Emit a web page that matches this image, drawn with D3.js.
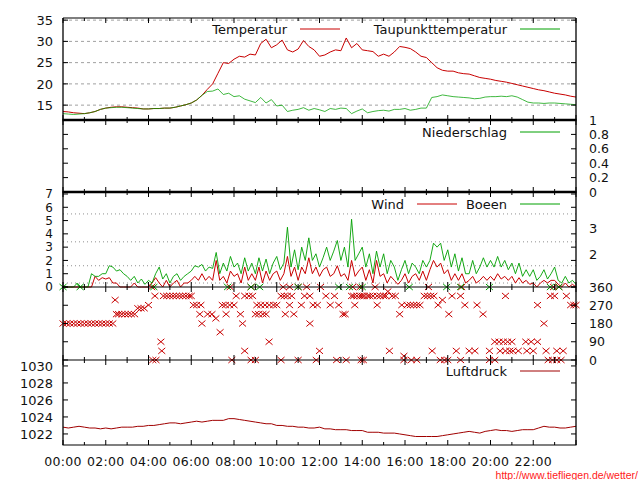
<!DOCTYPE html>
<html><head><meta charset="utf-8">
<script src="https://cdn.jsdelivr.net/npm/d3@7"></script>
<style>
body{margin:0;background:#fff}
svg{display:block}
text{font-family:"DejaVu Sans",sans-serif;font-size:13px;fill:#111}
</style>
</head><body>
<svg id="c" width="640" height="480"></svg>
<script>
// ---------------- data ----------------
const timeLabels = ["00:00","02:00","04:00","06:00","08:00","10:00","12:00","14:00","16:00","18:00","20:00","22:00"];
const step15 = 0.25;   // hours between temperature / pressure samples
const step10 = 1/6;    // hours between wind samples

const temperatur = [13.5,13.4,13.2,13.1, 13.0,13.2,13.5,14.0, 14.3,14.5,14.6,14.6, 14.5,14.4,14.3,14.1,
 14.1,14.2,14.2,14.3, 14.3,14.5,14.8,15.1, 15.5,16.2,17.3,18.7, 20.0,22.5,25.0,24.8,
 25.8,26.5,26.3,27.0, 26.8,29.5,30.5,28.5, 29.2,30.3,28.0,27.5, 28.2,30.2,28.8,28.0,
 26.5,26.8,27.5,28.0, 27.8,30.8,28.5,29.5, 28.0,27.8,27.6,26.5, 27.0,26.5,27.5,28.8,
 28.6,28.3,27.5,26.5, 26.2,25.0,23.8,23.2, 23.0,23.0,22.6,22.4, 22.3,21.9,21.5,21.3,
 21.1,20.8,20.6,20.4, 20.1,19.8,19.5,19.2, 18.9,18.6,18.4,18.1, 17.8,17.6,17.4,17.1, 16.9];

const taupunkt = [13.0,12.9,12.8,12.9, 13.0,13.2,13.5,14.0, 14.3,14.4,14.5,14.5, 14.4,14.3,14.2,14.1,
 14.1,14.2,14.2,14.3, 14.3,14.5,14.8,15.1, 15.5,16.2,17.3,18.2, 18.3,18.8,17.5,17.8,
 17.0,17.2,16.4,16.0, 15.6,16.8,15.5,16.3, 14.8,15.0,13.5,13.8, 14.0,14.4,13.8,14.2,
 13.9,13.5,14.2,14.0, 14.3,14.2,13.0,13.6, 14.1,13.2,13.5,13.7, 13.8,13.6,14.0,14.0,
 14.2,13.8,14.0,14.3, 14.3,16.8,17.0,17.4, 17.2,17.0,16.9,16.8, 16.7,16.5,16.6,16.9,
 17.0,17.0,17.1,17.0, 17.2,16.9,16.3,15.7, 15.5,15.5,15.4,15.5, 15.5,15.4,15.3,15.2, 15.1];

const niederschlag = [0,0,0,0,0,0,0,0,0,0,0,0,0,0,0,0,0,0,0,0,0,0,0,0,0];  // hourly, mm

const wind = [0,0,0,0,0,0, 0,0,0,0.8,0.5,0.7, 0.6,0.7,0.3,0.3,0,0, 0,0,0.3,0,0,0,
 0,0.3,0.7,0.3,0,0.5, 0,0.3,0.5,0,0.3,0.3, 0.5,0.8,0.5,1.0,0.5,0.8, 0.5,2.0,0.5,0.8,0.3,1.2,
 0.8,1.0,0.3,1.5,0.5,1.0, 0.5,1.5,0.3,1.2,0.5,1.0, 1.2,0.5,1.0,2.3,0.8,1.5, 0.5,1.5,1.0,2.2,1.0,1.5,
 0.8,1.3,1.5,0.8,1.0,1.6, 0.8,1.0,0.5,2.0,0.8,1.2, 1.5,0.5,1.3,0.3,2.0,0.8, 1.0,0.3,0.8,0.5,0.2,0.5,
 1.0,0.3,0.8,1.0,0.5,1.2, 0.5,1.3,2.0,1.5,1.8,1.0, 1.3,0.5,1.0,0.5,1.0,0.3, 0.5,0.8,0.3,0.5,0.8,0.5,
 0.8,0.5,1.0,0.6,0.8,0.5, 0.8,0.3,0.7,0.3,0.5,0.2, 0.3,0,0.3,0.5,0.3,0.5, 0.5,0.2,0,0.3,0,0.2, 0];

const boeen = [0,0,0,0,0.3,0, 0,0,1.0,0.8,0.8,1.0, 1.0,1.6,1.5,1.2,1.3,1.0, 0.8,0.5,0.8,0.3,0.6,0.2,
 0.5,0.3,1.0,1.5,0.6,1.0, 0.3,0.8,1.0,0.5,0.8,1.0, 1.2,1.6,1.5,1.7,1.2,1.5, 1.4,2.6,1.0,1.8,1.2,2.3,
 1.5,1.8,1.0,2.2,1.2,1.8, 1.0,2.2,1.2,2.1,1.0,1.8, 2.3,1.3,1.8,4.5,1.5,2.8, 1.3,3.0,2.0,3.7,2.0,2.5,
 1.5,2.2,3.0,2.0,2.7,3.5, 2.0,3.0,1.5,5.1,2.0,2.5, 3.0,1.5,2.5,1.0,2.7,1.5, 2.5,1.0,2.0,1.5,0.5,1.3,
 2.0,1.0,1.8,1.5,1.0,2.0, 1.5,2.0,3.3,3.0,3.3,2.0, 2.8,1.5,2.5,1.2,2.2,1.0, 1.0,2.0,1.0,1.5,2.2,1.5,
 2.0,1.5,2.3,1.5,2.0,1.3, 1.8,1.0,1.8,0.8,1.3,0.8, 1.3,0.5,0.8,1.3,0.6,1.0, 1.5,0.5,0.3,0.8,0.3,0.5, 0.2];

// wind direction observations [hour, degrees]
const windrichtung = [
 [0,180],[0.17,180],[0.33,180],[0.5,180],[0.67,180],[0.83,180],[1.0,180],[1.17,180],[1.33,180],[1.5,180],
 [1.67,180],[1.83,180],[2.0,180],[2.17,180],[2.33,180],[2.44,296],
 [2.5,226],[2.6,226],[2.75,226],[2.9,226],[3.05,226],[3.2,226],[3.35,226],[3.5,255],[3.65,255],[3.8,255],
 [4.0,271],[4.15,360],[4.2,0],[4.3,316],[4.35,0],[4.58,90],[4.62,45],
 [4.7,316],[4.85,316],[5.0,316],[5.15,316],[5.3,316],[5.45,316],[5.6,316],[5.75,316],[5.9,316],[6.0,316],
 [6.1,271],[6.25,271],[6.4,226],[6.45,271],[6.5,180],[6.77,226],[6.97,226],[7.15,205],[7.35,137],
 [7.45,271],[7.6,271],[7.63,226],[7.8,271],[7.82,360],[7.9,0],[8.0,271],[8.1,316],[8.3,226],[8.4,180],
 [8.5,45],[8.5,316],[8.7,316],[8.8,0],[8.8,360],[8.87,316],[9.0,0],[9.07,271],[9.0,226],[9.15,226],
 [9.25,271],[9.35,226],[9.45,271],[9.5,226],[9.64,90],[9.65,271],[9.85,271],[10.0,271],[10.2,316],[10.2,0],
 [10.3,360],[10.35,316],[10.4,226],[10.5,316],[10.6,271],[10.6,360],[10.7,316],[10.8,226],[11.0,0],[11.0,360],
 [11.15,271],[11.3,316],[11.4,360],[11.55,316],[11.55,180],[11.7,271],[11.85,0],[11.9,271],[12.0,45],
 [12.05,360],[12.3,316],[12.5,271],[12.7,316],[12.8,0],[12.9,271],[13.1,226],[13.2,226],[13.25,0],
 [13.5,316],[13.55,360],[13.6,316],[13.65,271],[13.75,316],[13.9,316],[13.9,360],[13.95,0],[14.0,316],
 [14.05,0],[14.1,316],[14.25,316],[14.35,316],[14.5,316],[14.6,360],[14.7,316],[14.7,271],[14.85,316],
 [15.0,316],[15.1,316],[15.2,338],[15.27,45],[15.4,316],[15.55,316],[15.75,226],[15.85,271],[15.95,20],
 [15.95,0],[16.1,271],[16.25,271],[16.3,0],[16.4,271],[16.55,271],[16.55,0],[16.7,271],
 [16.9,316],[17.05,316],[17.1,360],[17.2,316],[17.27,45],[17.35,316],[17.55,271],[17.65,0],[17.75,296],
 [17.85,0],[18.0,0],[18.05,226],[18.2,316],[18.4,45],[18.6,316],[18.6,0],[18.65,360],[18.8,271],[19.0,45],
 [19.27,45],[19.37,271],[19.65,226],[19.95,45],[19.95,0],[20.2,0],[20.2,90],[20.4,90],[20.45,45],
 [20.6,90],[20.7,45],[20.7,316],[20.8,90],[20.9,45],[21.0,90],[21.05,45],[21.3,45],[21.65,90],[21.7,45],
 [21.9,90],[22.0,45],[22.2,90],[22.2,271],[22.5,180],[22.6,45],[22.7,0],[22.8,316],[22.9,0],[22.95,360],
 [23.0,316],[23.1,0],[23.1,45],[23.2,360],[23.3,0],[23.4,45],[23.55,316],[23.75,271],[23.9,271],[24.0,271]
];
// gust direction marks (all at north)
const boeenrichtung = [[0,360],[0.8,360],[4.25,360],[7.7,360],[8.8,360],[9.2,360],[11.0,360],[12.9,360],
 [13.4,360],[14.0,360],[16.2,360],[17.95,360],[18.6,360],[19.95,360],[22.8,360],[23.2,360]];

const luftdruck = [1022.8,1022.7,1022.8,1022.9, 1022.8,1022.7,1022.7,1022.6, 1022.7,1022.6,1022.7,1022.8,
 1022.8,1022.8,1022.9,1022.9, 1023.0,1023.0,1023.1,1023.2, 1023.3,1023.3,1023.2,1023.3,
 1023.4,1023.5,1023.4,1023.5, 1023.6,1023.6,1023.6,1023.8, 1023.8,1023.7,1023.6,1023.5,
 1023.4,1023.3,1023.2,1023.2, 1023.0,1023.0,1022.9,1022.9, 1022.8,1022.8,1022.7,1022.7,
 1022.8,1022.6,1022.6,1022.5, 1022.5,1022.5,1022.4,1022.4, 1022.4,1022.2,1022.2,1022.2,
 1022.1,1022.1,1022.1,1022.0, 1021.9,1021.8,1021.7,1021.7, 1021.7,1021.7,1021.7,1021.8,
 1021.9,1022.0,1022.1,1022.2, 1022.3,1022.2,1022.1,1022.3, 1022.4,1022.5,1022.4,1022.4,
 1022.3,1022.4,1022.5,1022.5, 1022.5,1022.7,1022.9,1022.8, 1022.8,1022.7,1022.7,1022.8, 1022.9];

const tempTicks = [15,20,25,30,35];
const rainTicks = [0,0.2,0.4,0.6,0.8,1];
const windTicks = [0,1,2,3,4,5,6,7];
const beaufortLimits = [0.3,1.6,3.4,5.5];
const beaufortLabels = [{v:2.45,t:"2"},{v:4.4,t:"3"}];
const dirTicks = [0,90,180,270,360];
const presTicks = [1022,1024,1026,1028,1030];

// ---------------- layout ----------------
const L = 63, R = 576;
const RED = "#c80000", GREEN = "#00a000";
const svg = d3.select("#c");
const x = d3.scaleLinear().domain([0,24]).range([L,R]);

const yT = d3.scaleLinear().domain([11.5,35.5]).range([120,18]);
const yN = d3.scaleLinear().domain([0,1]).range([192,120]);
const yW = d3.scaleLinear().domain([0,7]).range([287,194]);
const yD = d3.scaleLinear().domain([0,360]).range([360,287]);
const yP = d3.scaleLinear().domain([1020.7,1030.7]).range([445,360]);

const panels = [[18,120],[120,192],[192,287],[287,360],[360,445]];

// grid lines
const gT = svg.append("g");
tempTicks.forEach(v=>gT.append("line").attr("x1",L).attr("x2",R).attr("y1",yT(v)).attr("y2",yT(v))
  .attr("stroke","#a0a0a0").attr("stroke-dasharray","3,3"));
beaufortLimits.forEach(v=>gT.append("line").attr("x1",L).attr("x2",R).attr("y1",yW(v)).attr("y2",yW(v))
  .attr("stroke","#909090").attr("stroke-dasharray","1,3"));

function series(arr, stepH, y, color, op){
  const line = d3.line().x((d,i)=>x(i*stepH)).y(d=>y(d));
  svg.append("path").datum(arr).attr("d",line).attr("fill","none").attr("stroke",color)
    .attr("stroke-width",1).attr("stroke-opacity",op||1);
}
series(temperatur, step15, yT, RED);
series(taupunkt, step15, yT, GREEN, 0.75);
series(niederschlag, 1, yN, GREEN);
series(wind, step10, yW, RED);
series(boeen, step10, yW, GREEN, 0.9);
series(luftdruck, step15, yP, "#a00000");

function crosses(arr, color){
  svg.append("g").selectAll("path").data(arr).join("path")
    .attr("transform",d=>`translate(${x(d[0])},${yD(d[1])})`)
    .attr("d","M-3.5,-3L3.5,3M-3.5,3L3.5,-3")
    .attr("stroke",color).attr("stroke-width",1).attr("fill","none");
}
crosses(windrichtung, RED);
crosses(boeenrichtung, GREEN);

// borders
const gB = svg.append("g").attr("stroke","#000");
gB.append("line").attr("x1",L).attr("x2",R).attr("y1",18).attr("y2",18).attr("stroke-width",1.2);
[[120,2.6],[192,2.6],[287,1.2],[360,1.2],[445,1.2]].forEach(([yy,w])=>
  gB.append("line").attr("x1",L-0.5).attr("x2",R+0.5).attr("y1",yy).attr("y2",yy).attr("stroke-width",w));
gB.append("line").attr("x1",L).attr("x2",L).attr("y1",18).attr("y2",445).attr("stroke-width",1.3);
gB.append("line").attr("x1",R).attr("x2",R).attr("y1",18).attr("y2",445).attr("stroke-width",1.3);

// x ticks on each panel (inward, top and bottom)
const hours = d3.range(0,25);
panels.forEach(([t,b])=>{
  hours.forEach(h=>{
    const len = h%2===0 ? 5 : 3;
    gB.append("line").attr("x1",x(h)).attr("x2",x(h)).attr("y1",b).attr("y2",b-len).attr("stroke-width",1);
    gB.append("line").attr("x1",x(h)).attr("x2",x(h)).attr("y1",t).attr("y2",t+len).attr("stroke-width",1);
  });
});
// y ticks (left and mirrored right)
function yticks(vals, y){
  vals.forEach(v=>{
    gB.append("line").attr("x1",L).attr("x2",L+5).attr("y1",y(v)).attr("y2",y(v)).attr("stroke-width",1);
    gB.append("line").attr("x1",R).attr("x2",R-5).attr("y1",y(v)).attr("y2",y(v)).attr("stroke-width",1);
  });
}
yticks(tempTicks, yT); yticks(rainTicks, yN); yticks(windTicks, yW); yticks(dirTicks, yD); yticks(presTicks, yP);

// tick labels
const gL = svg.append("g");
function leftLabels(vals, y, size){
  vals.forEach(v=>gL.append("text").attr("x",53).attr("y",y(v)).attr("dy","0.36em")
    .attr("text-anchor","end").style("font-size",size||"13px").text(v));
}
function rightLabels(items, y, size){
  items.forEach(d=>gL.append("text").attr("x",589).attr("y",y(d.v)).attr("dy","0.36em")
    .style("font-size",size||"13px").text(d.t));
}
leftLabels(tempTicks, yT);
leftLabels(windTicks, yW, "12px");
leftLabels(presTicks, yP);
rightLabels(rainTicks.map(v=>({v, t:String(v)})), yN, "12.5px");
rightLabels(beaufortLabels.map(d=>({v:d.v,t:d.t})), yW);
rightLabels(dirTicks.map(v=>({v, t:String(v)})), yD, "12.5px");
timeLabels.forEach((t,i)=>gL.append("text").attr("x",x(i*2)).attr("y",466).attr("text-anchor","middle")
  .style("font-size","12.5px").style("letter-spacing","0.3px").text(t));

// legends
function legend(label, xEnd, yy, color){
  gL.append("text").attr("x",xEnd).attr("y",yy).attr("dy","0.36em").attr("text-anchor","end").text(label);
  svg.append("line").attr("x1",xEnd+13).attr("x2",xEnd+53).attr("y1",yy).attr("y2",yy)
    .attr("stroke",color).attr("stroke-width",1);
}
legend("Temperatur", 287, 29, RED);
legend("Taupunkttemperatur", 507, 29, GREEN);
legend("Niederschlag", 507, 132, GREEN);
legend("Wind", 404, 204, RED);
legend("Boeen", 507, 204, GREEN);
legend("Luftdruck", 507, 371, "#a00000");

// source
svg.append("text").attr("x",638).attr("y",479).attr("text-anchor","end")
  .style("font-family","'Liberation Sans',Arial,sans-serif").style("font-size","10.5px").style("fill","#ff2020")
  .text("http://www.tiefliegen.de/wetter/");
</script>
</body></html>
